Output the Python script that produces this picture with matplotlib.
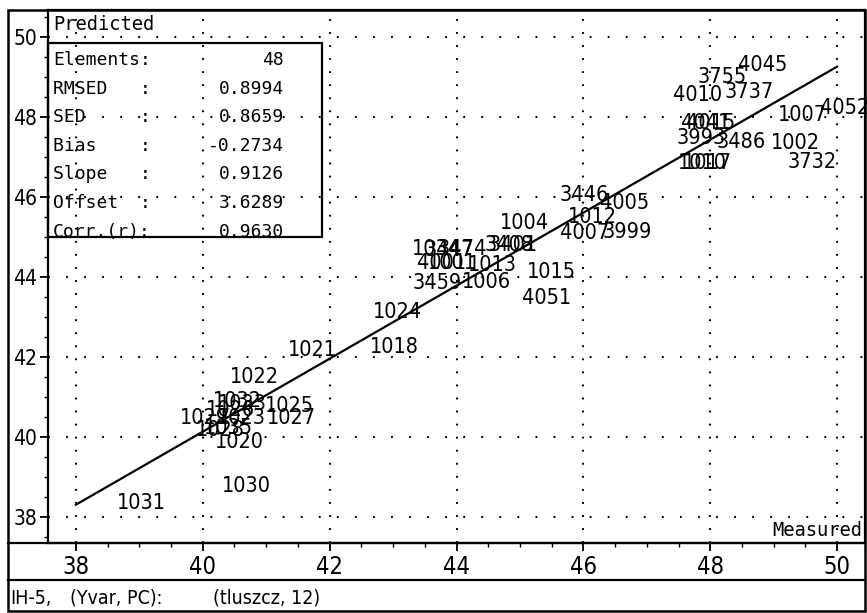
import os
import matplotlib
matplotlib.use("Agg")
import matplotlib.pyplot as plt
from matplotlib import font_manager
from matplotlib.font_manager import FontProperties
from matplotlib.lines import Line2D
from matplotlib.patches import Rectangle
from matplotlib.ticker import MultipleLocator

# --- data ---
sample_ids = ['1031', '1030', '1020', '1032', '1025', '1027', '1029', '1023',
              '1026', '1033', '1028', '1035', '1022', '1021', '1018', '1024',
              '3459', '1006', '1001', '4001', '1013', '1034', '3474', '3447',
              '3408', '3401', '1004', '1015', '4051', '3446', '4005', '1012',
              '4007', '3999', '4045', '3755', '4010', '3737', '1007', '4052',
              '1002', '3732', '3486', '3993', '4041', '4015', '1010', '1017']
measured = [39.04, 40.69, 40.58, 40.55, 41.37, 41.40, 40.02, 40.61,
            40.43, 40.62, 40.28, 40.40, 40.82, 41.73, 43.02, 43.07,
            43.69, 44.47, 43.94, 43.76, 44.57, 43.69, 44.09, 43.89,
            44.83, 44.90, 45.07, 45.50, 45.42, 46.02, 46.65, 46.14,
            46.02, 46.69, 48.82, 48.19, 47.80, 48.61, 49.45, 50.11,
            49.35, 49.60, 48.49, 47.86, 47.92, 48.00, 47.87, 47.95]
predicted = [38.35, 38.78, 39.88, 40.90, 40.78, 40.48, 40.48, 40.48,
             40.68, 40.82, 40.18, 40.22, 41.50, 42.18, 42.25, 43.13,
             43.85, 43.88, 44.35, 44.35, 44.30, 44.70, 44.70, 44.68,
             44.80, 44.80, 45.35, 44.12, 43.48, 46.05, 45.85, 45.50,
             45.10, 45.13, 49.30, 49.00, 48.55, 48.63, 48.05, 48.23,
             47.35, 46.88, 47.38, 47.48, 47.85, 47.85, 46.85, 46.85]

stat_names = ['Elements', 'RMSED', 'SED', 'Bias', 'Slope', 'Offset', 'Corr.(r)']
stat_values = ['48', '0.8994', '0.8659', '-0.2734', '0.9126', '3.6289', '0.9630']
slope = 0.9126
offset = 3.6289
fit_x = [38, 50]

x_ticks = [38, 40, 42, 44, 46, 48, 50]
y_ticks = [38, 40, 42, 44, 46, 48, 50]

W, H = 867, 613

# pick the narrowest sans face that is installed
wanted = ['NotoSans-ExtraCondensed.ttf', 'NotoSans-Condensed.ttf',
          'LiberationSansNarrow-Regular.ttf', 'DejaVuSansCondensed.ttf']
files = {os.path.basename(f.fname): f.fname for f in font_manager.fontManager.ttflist}
narrow_file = None
for w in wanted:
    if w in files:
        narrow_file = files[w]
        break
if narrow_file:
    NARROW = FontProperties(fname=narrow_file)
else:
    NARROW = FontProperties(family='DejaVu Sans', stretch='condensed')
MONO = dict(family='DejaVu Sans Mono')


def fx(px):
    return px / W


def fy(py):
    return 1 - py / H


def narrow(size):
    p = NARROW.copy()
    p.set_size(size)
    return p


plt.rcParams['lines.scale_dashes'] = False

fig = plt.figure(figsize=(W / 100, H / 100), dpi=100)
ax = fig.add_axes([fx(48), fy(543), fx(865) - fx(48), fy(10) - fy(543)])
ax.set_xlim(37.56, 50.44)
ax.set_ylim(37.35, 50.675)

for s in ax.spines.values():
    s.set_linewidth(1.6)

ax.set_xticks(x_ticks)
ax.set_yticks(y_ticks)
ax.xaxis.set_minor_locator(MultipleLocator(0.5))
ax.yaxis.set_minor_locator(MultipleLocator(0.5))
ax.tick_params(which='major', direction='out', length=6, width=1.3)
ax.tick_params(which='minor', direction='out', length=3, width=1.0)
ax.tick_params(axis='x', pad=3)
ax.tick_params(axis='y', pad=2)
for lab in ax.get_xticklabels():
    lab.set_fontproperties(narrow(17))
for lab in ax.get_yticklabels():
    lab.set_fontproperties(narrow(15))

# dotted grid, different dot spacing per direction
for gx in x_ticks:
    ax.axvline(gx, color='black', lw=1.5, linestyle=(0, (1.3, 8.1)), zorder=0)
for gy in y_ticks:
    ax.axhline(gy, color='black', lw=1.5, linestyle=(0, (1.3, 11.7)), zorder=0)

# regression line
fit_y = [slope * v + offset for v in fit_x]
ax.plot(fit_x, fit_y, color='black', lw=1.6)

# sample numbers at their points
for sid, mx, my in zip(sample_ids, measured, predicted):
    ax.text(mx, my, sid, ha='center', va='center', clip_on=False,
            fontproperties=narrow(15.5))

# statistics box
ax.add_patch(Rectangle((fx(48), fy(237)), fx(322) - fx(48), fy(43) - fy(237),
                       transform=fig.transFigure, fill=False, lw=1.6,
                       edgecolor='black', clip_on=False))
for i, (nm, val) in enumerate(zip(stat_names, stat_values)):
    yy = fy(60 + i * 28.6)
    fig.text(fx(53), yy, f"{nm:<8}:", ha='left', va='center', fontsize=13, **MONO)
    fig.text(fx(284), yy, val, ha='right', va='center', fontsize=13, **MONO)

fig.text(fx(53), fy(24), 'Predicted', ha='left', va='center', fontsize=13.5, **MONO)
fig.text(fx(862), fy(530), 'Measured', ha='right', va='center', fontsize=13.5, **MONO)

# outer frame and strips
fig.add_artist(Rectangle((fx(8), fy(611)), fx(865) - fx(8), fy(10) - fy(611),
                         transform=fig.transFigure, fill=False, lw=1.8,
                         edgecolor='black'))
fig.add_artist(Line2D([fx(8), fx(865)], [fy(543), fy(543)],
                      transform=fig.transFigure, color='black', lw=1.6))
fig.add_artist(Line2D([fx(8), fx(865)], [fy(580), fy(580)],
                      transform=fig.transFigure, color='black', lw=1.6))

fig.text(fx(10), fy(598), 'IH-5,', ha='left', va='center', fontproperties=narrow(14))
fig.text(fx(70), fy(598), '(Yvar, PC):', ha='left', va='center', fontproperties=narrow(14))
fig.text(fx(213), fy(598), '(tluszcz, 12)', ha='left', va='center', fontproperties=narrow(14))

fig.savefig('out.png', dpi=100)
